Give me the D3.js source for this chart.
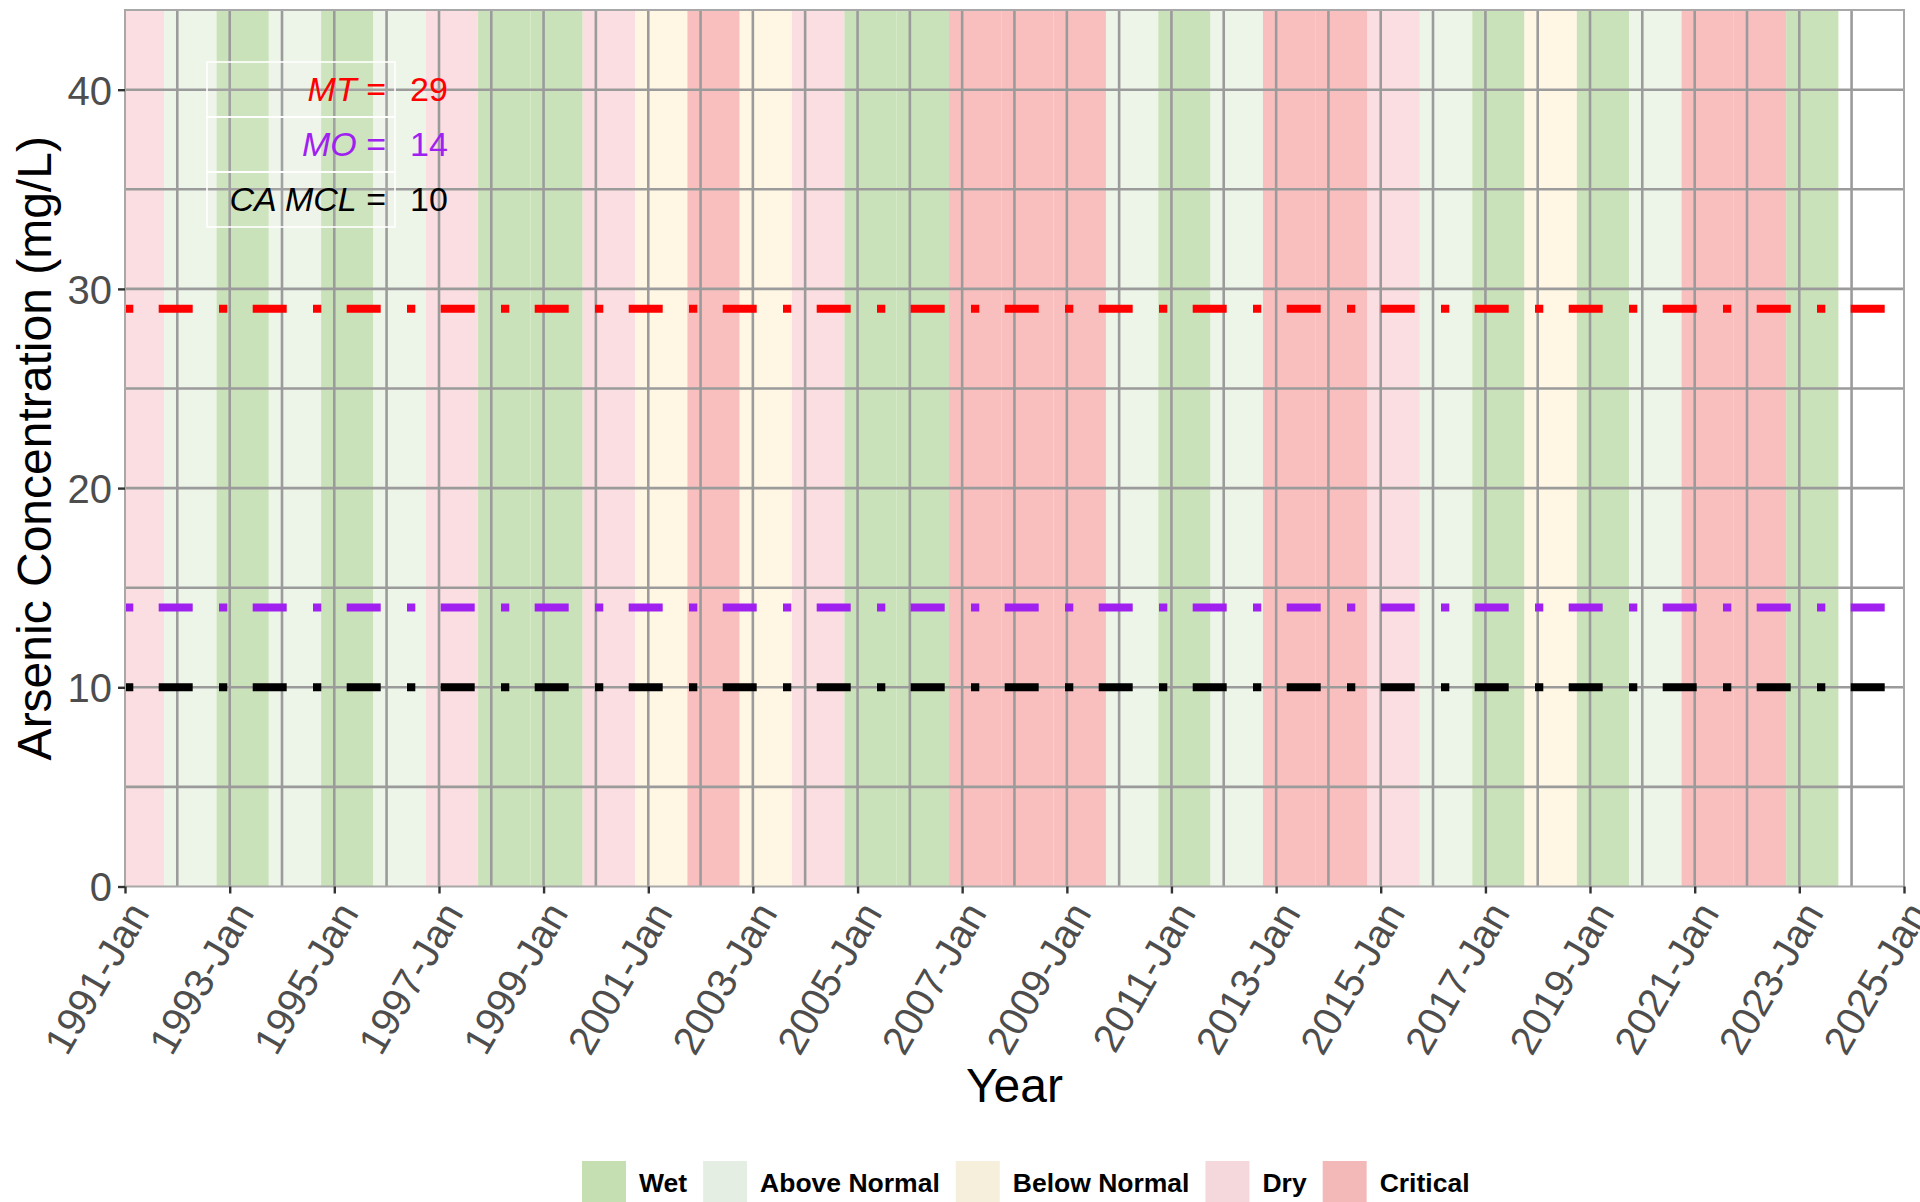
<!DOCTYPE html>
<html>
<head>
<meta charset="utf-8">
<script src="https://cdn.jsdelivr.net/npm/d3@7"></script>
<style>
  html, body { margin: 0; padding: 0; background: #ffffff; }
  svg { display: block; font-family: "Liberation Sans", Arial, sans-serif; }
</style>
</head>
<body>
<svg id="chart" width="1920" height="1202"></svg>
<script>
// ---------------- data ----------------
// Water year (Oct of previous year to Oct of this year) classification
const waterYears = [1991, 1992, 1993, 1994, 1995, 1996, 1997, 1998, 1999, 2000,
                    2001, 2002, 2003, 2004, 2005, 2006, 2007, 2008, 2009, 2010,
                    2011, 2012, 2013, 2014, 2015, 2016, 2017, 2018, 2019, 2020,
                    2021, 2022, 2023];
const yearTypes = ["Dry", "Above Normal", "Wet", "Above Normal", "Wet", "Above Normal", "Dry", "Wet", "Wet", "Dry",
                   "Below Normal", "Critical", "Below Normal", "Dry", "Wet", "Wet", "Critical", "Critical", "Critical", "Above Normal",
                   "Wet", "Above Normal", "Critical", "Critical", "Dry", "Above Normal", "Wet", "Below Normal", "Wet", "Above Normal",
                   "Critical", "Critical", "Wet"];

const typeCategories = ["Wet", "Above Normal", "Below Normal", "Dry", "Critical"];
const typeColors     = ["#cae2b9", "#edf4e8", "#fff7e4", "#fbdee1", "#f9bfbf"];
const typeKeyColors  = ["#c5dfb3", "#e5eee3", "#f6efdc", "#f4d8db", "#f3b9b8"];

const limitNames  = ["MT", "MO", "CA MCL"];
const limitValues = [29, 14, 10];
const limitColors = ["#ff0000", "#a020f0", "#000000"];

const yTicksMajor = [0, 10, 20, 30, 40];
const yTicksMinor = [5, 15, 25, 35];
const xTickYears = [1991, 1993, 1995, 1997, 1999, 2001, 2003, 2005, 2007, 2009,
                    2011, 2013, 2015, 2017, 2019, 2021, 2023, 2025];
const xStartYear = 1991, xEndYear = 2025;

// ---------------- layout ----------------
const svg = d3.select("#chart");
const P = { left: 125, right: 1904, top: 10, bottom: 886.5 };
const gridColor = "#9b9b9b";
const font = '"Liberation Sans", Arial, sans-serif';

const x = d3.scaleUtc()
  .domain([new Date(Date.UTC(xStartYear, 0, 1)), new Date(Date.UTC(xEndYear, 0, 1))])
  .range([P.left, P.right]);
const y = d3.scaleLinear().domain([0, 44]).range([P.bottom, P.top]);
const color = d3.scaleOrdinal().domain(typeCategories).range(typeColors);

const clipId = "panelClip";
svg.append("defs").append("clipPath").attr("id", clipId)
  .append("rect").attr("x", P.left).attr("y", P.top)
  .attr("width", P.right - P.left).attr("height", P.bottom - P.top);

const panel = svg.append("g").attr("clip-path", `url(#${clipId})`);

// bands
const bands = waterYears.map((wy, i) => ({
  start: new Date(Date.UTC(wy - 1, 9, 1)),
  end: new Date(Date.UTC(wy, 9, 1)),
  type: yearTypes[i]
}));
const dom = x.domain();
panel.selectAll("rect.band").data(bands).join("rect")
  .attr("class", "band")
  .attr("x", d => x(d.start < dom[0] ? dom[0] : d.start))
  .attr("width", d => x(d.end) - x(d.start < dom[0] ? dom[0] : d.start))
  .attr("y", P.top).attr("height", P.bottom - P.top)
  .attr("fill", d => color(d.type));

// grid lines
const yearGrid = d3.utcYear.range(new Date(Date.UTC(xStartYear + 1, 0, 1)), new Date(Date.UTC(xEndYear, 0, 1)));
panel.selectAll("line.vgrid").data(yearGrid).join("line")
  .attr("x1", d => x(d)).attr("x2", d => x(d))
  .attr("y1", P.top).attr("y2", P.bottom)
  .attr("stroke", gridColor).attr("stroke-width", 2.6);
panel.selectAll("line.hgrid").data(yTicksMajor.concat(yTicksMinor).filter(v => v > 0)).join("line")
  .attr("x1", P.left).attr("x2", P.right)
  .attr("y1", d => y(d)).attr("y2", d => y(d))
  .attr("stroke", gridColor).attr("stroke-width", 2.6);

// limit lines (dot-dash)
panel.selectAll("line.limit").data(limitValues).join("line")
  .attr("x1", P.left).attr("x2", P.right)
  .attr("y1", d => y(d)).attr("y2", d => y(d))
  .attr("stroke", (d, i) => limitColors[i])
  .attr("stroke-width", 8)
  .attr("stroke-dasharray", "8.3 25.4 34 26.3");

// annotation table
const ann = svg.append("g");
const rowTop = [62, 117, 172], rowH = 55;
const boxL = 207, boxR = 395;
limitNames.forEach((name, i) => {
  ann.append("rect")
    .attr("x", boxL).attr("y", rowTop[i]).attr("width", boxR - boxL).attr("height", rowH)
    .attr("fill", "#ffffff").attr("fill-opacity", 0.08)
    .attr("stroke", "#ffffff").attr("stroke-width", 1.6);
  const t = ann.append("text")
    .attr("x", 386).attr("y", rowTop[i] + 39)
    .attr("text-anchor", "end")
    .attr("font-size", 34).attr("fill", limitColors[i]);
  t.append("tspan").attr("font-style", "italic").text(name);
  t.append("tspan").text(" =");
  ann.append("text")
    .attr("x", 410).attr("y", rowTop[i] + 39)
    .attr("font-size", 34).attr("fill", limitColors[i])
    .text(limitValues[i]);
});

// panel border
svg.append("rect")
  .attr("x", P.left).attr("y", P.top)
  .attr("width", P.right - P.left).attr("height", P.bottom - P.top)
  .attr("fill", "none").attr("stroke", "#a8a8a8").attr("stroke-width", 2);

// y axis
const yAxis = d3.axisLeft(y).tickValues(yTicksMajor).tickSize(7).tickPadding(6);
const gy = svg.append("g").attr("transform", `translate(${P.left},0)`).call(yAxis);
gy.select(".domain").remove();
gy.selectAll(".tick line").attr("stroke", "#333333").attr("stroke-width", 2.4);
gy.selectAll(".tick text")
  .attr("font-family", font).attr("font-size", 40).attr("fill", "#4d4d4d")
  .attr("dy", "0.36em");

// x axis
const xTicks = xTickYears.map(yr => new Date(Date.UTC(yr, 0, 1)));
const xAxis = d3.axisBottom(x).tickValues(xTicks).tickSize(7).tickPadding(0)
  .tickFormat(d3.utcFormat("%Y-%b"));
const gx = svg.append("g").attr("transform", `translate(0,${P.bottom})`).call(xAxis);
gx.select(".domain").remove();
gx.selectAll(".tick line").attr("stroke", "#333333").attr("stroke-width", 2.4);
gx.selectAll(".tick text")
  .attr("font-family", font).attr("font-size", 40).attr("fill", "#4d4d4d")
  .attr("text-anchor", "end")
  .attr("x", 0).attr("y", 0).attr("dy", "0.72em")
  .attr("transform", "translate(0,12) rotate(-60)");

// axis titles
svg.append("text")
  .attr("x", (P.left + P.right) / 2).attr("y", 1102)
  .attr("text-anchor", "middle").attr("font-size", 48).attr("fill", "#000")
  .text("Year");
svg.append("text")
  .attr("transform", `translate(51,${(P.top + P.bottom) / 2}) rotate(-90)`)
  .attr("text-anchor", "middle").attr("font-size", 48).attr("fill", "#000")
  .text("Arsenic Concentration (mg/L)");

// legend
const leg = svg.append("g");
let lx = 582;
typeCategories.forEach((cat, i) => {
  leg.append("rect").attr("x", lx).attr("y", 1161).attr("width", 44).attr("height", 46)
    .attr("fill", typeKeyColors[i]);
  const t = leg.append("text").attr("x", lx + 57).attr("y", 1192)
    .attr("font-size", 26.5).attr("font-weight", "bold").attr("fill", "#000").text(cat);
  lx = lx + 57 + t.node().getComputedTextLength() + 16;
});
</script>
</body>
</html>
